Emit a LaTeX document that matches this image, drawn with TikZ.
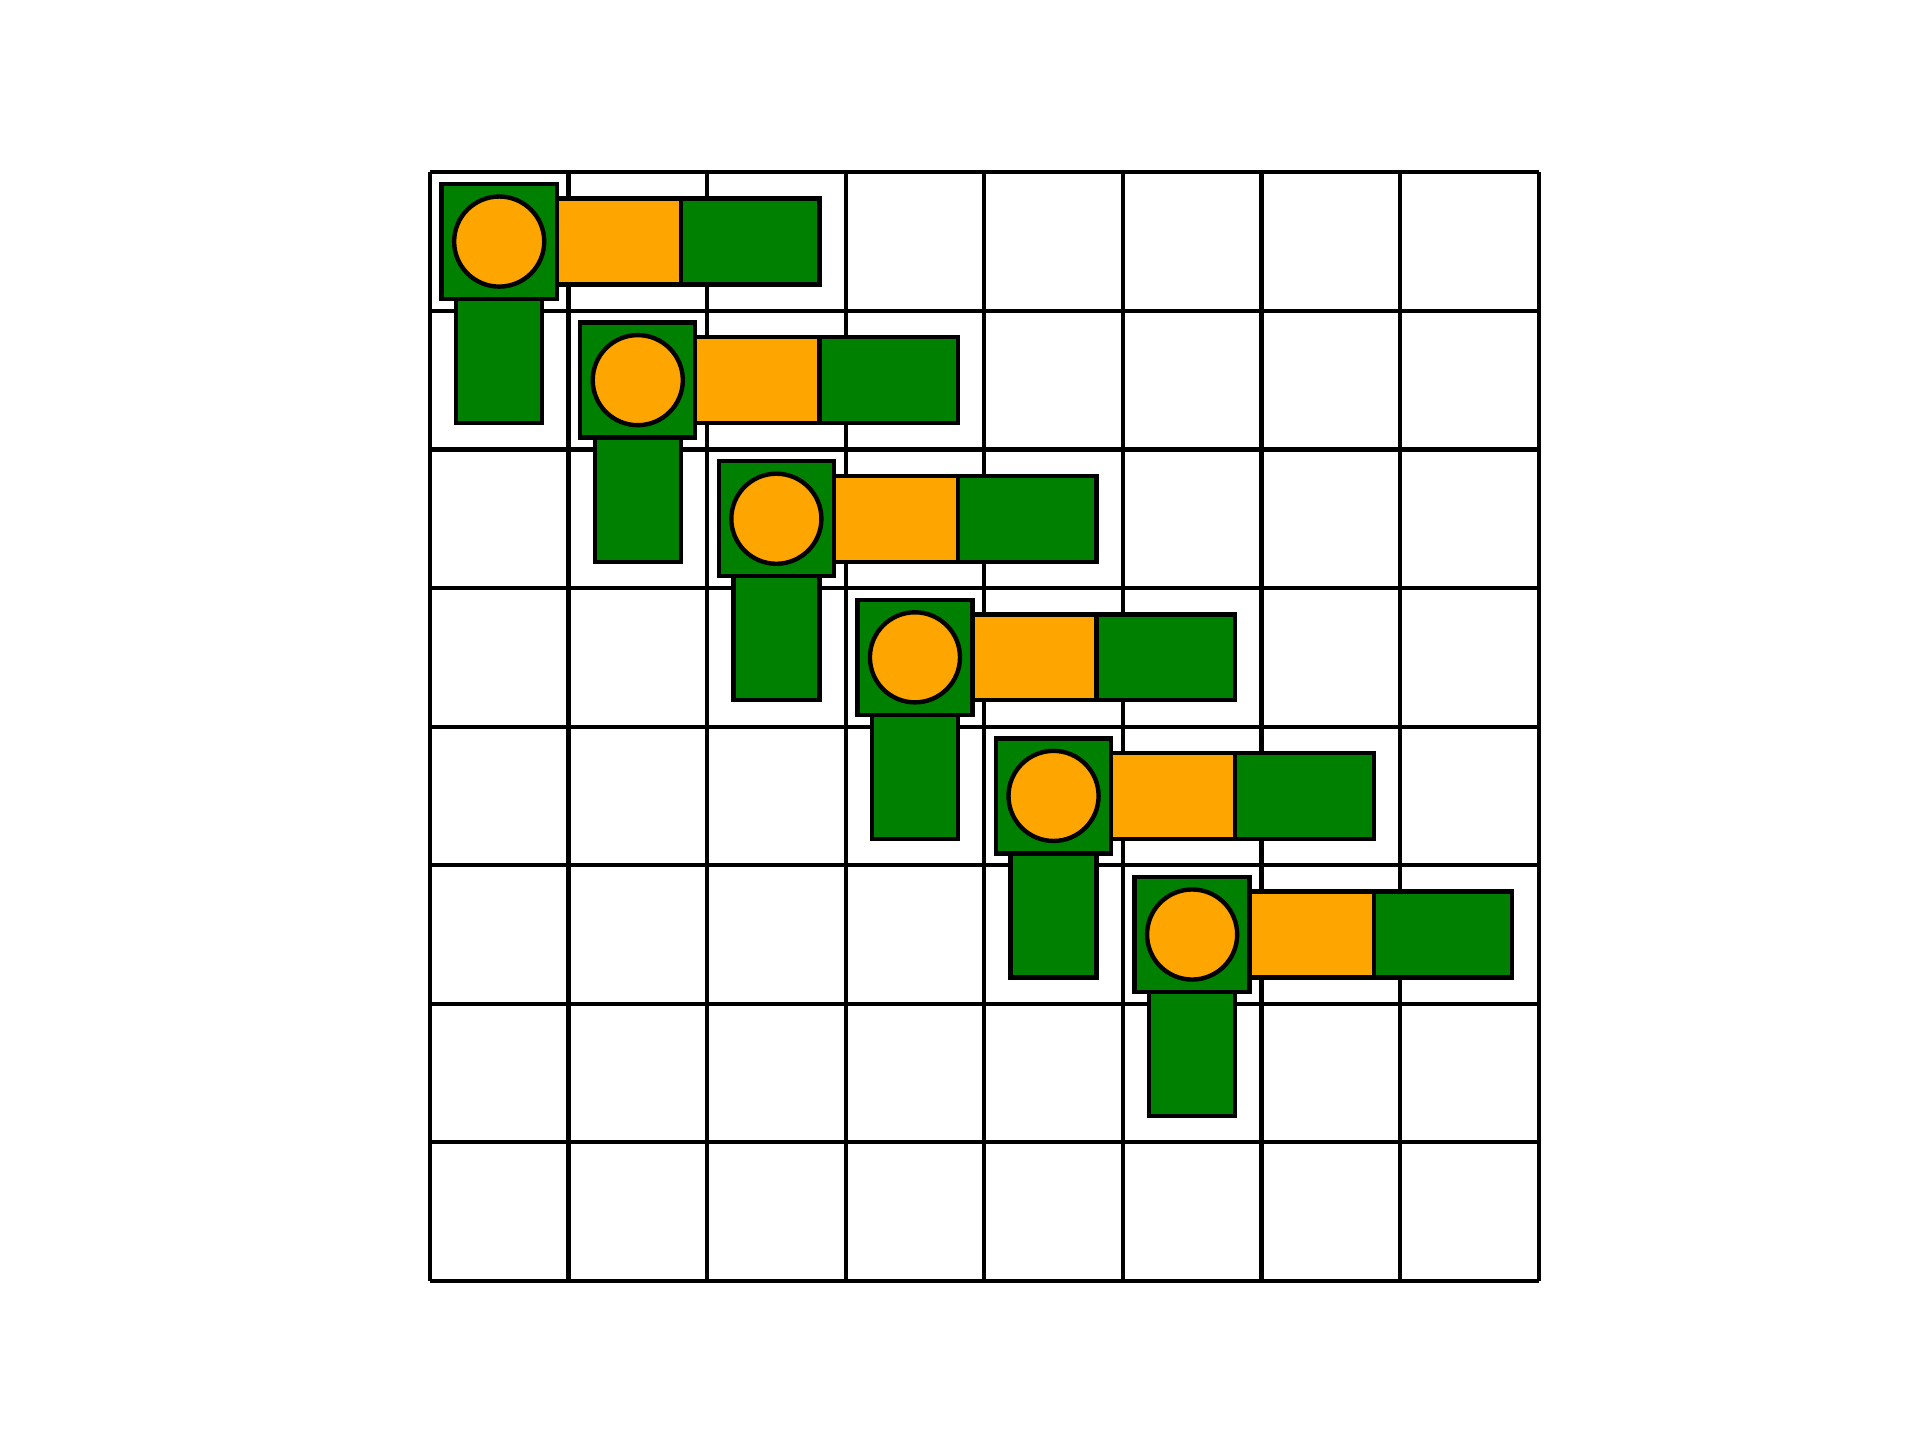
\documentclass[tikz,border=0pt]{standalone}
\usepackage{tikz}

\definecolor{piecegreen}{HTML}{008000}
\definecolor{pieceorange}{HTML}{FFA500}

\begin{document}
\begin{tikzpicture}[
    part/.style={draw=black, line width=0.9pt},
    greenpart/.style={part, fill=piecegreen},
    orangepart/.style={part, fill=pieceorange},
    board/.style={draw=black, line width=0.85pt}
  ]
    \useasboundingbox (-3.102,-1.143) rectangle (10.752,9.243);
    \draw[board] (0,0) grid (8,8);
    % one piece per diagonal cell, local y runs downward from the cell corner
    \foreach \i in {0,...,5} {
      \begin{scope}[shift={(\i,8-\i)}]
        \draw[greenpart] (0.19,-0.5) rectangle (0.81,-1.81);
        \draw[orangepart] (0.5,-0.19) rectangle (1.81,-0.81);
        \draw[greenpart] (1.81,-0.19) rectangle (2.81,-0.81);
        \draw[greenpart] (0.085,-0.085) rectangle (0.915,-0.915);
        \draw[orangepart] (0.5,-0.5) circle (0.325);
      \end{scope}
    }
\end{tikzpicture}
\end{document}
